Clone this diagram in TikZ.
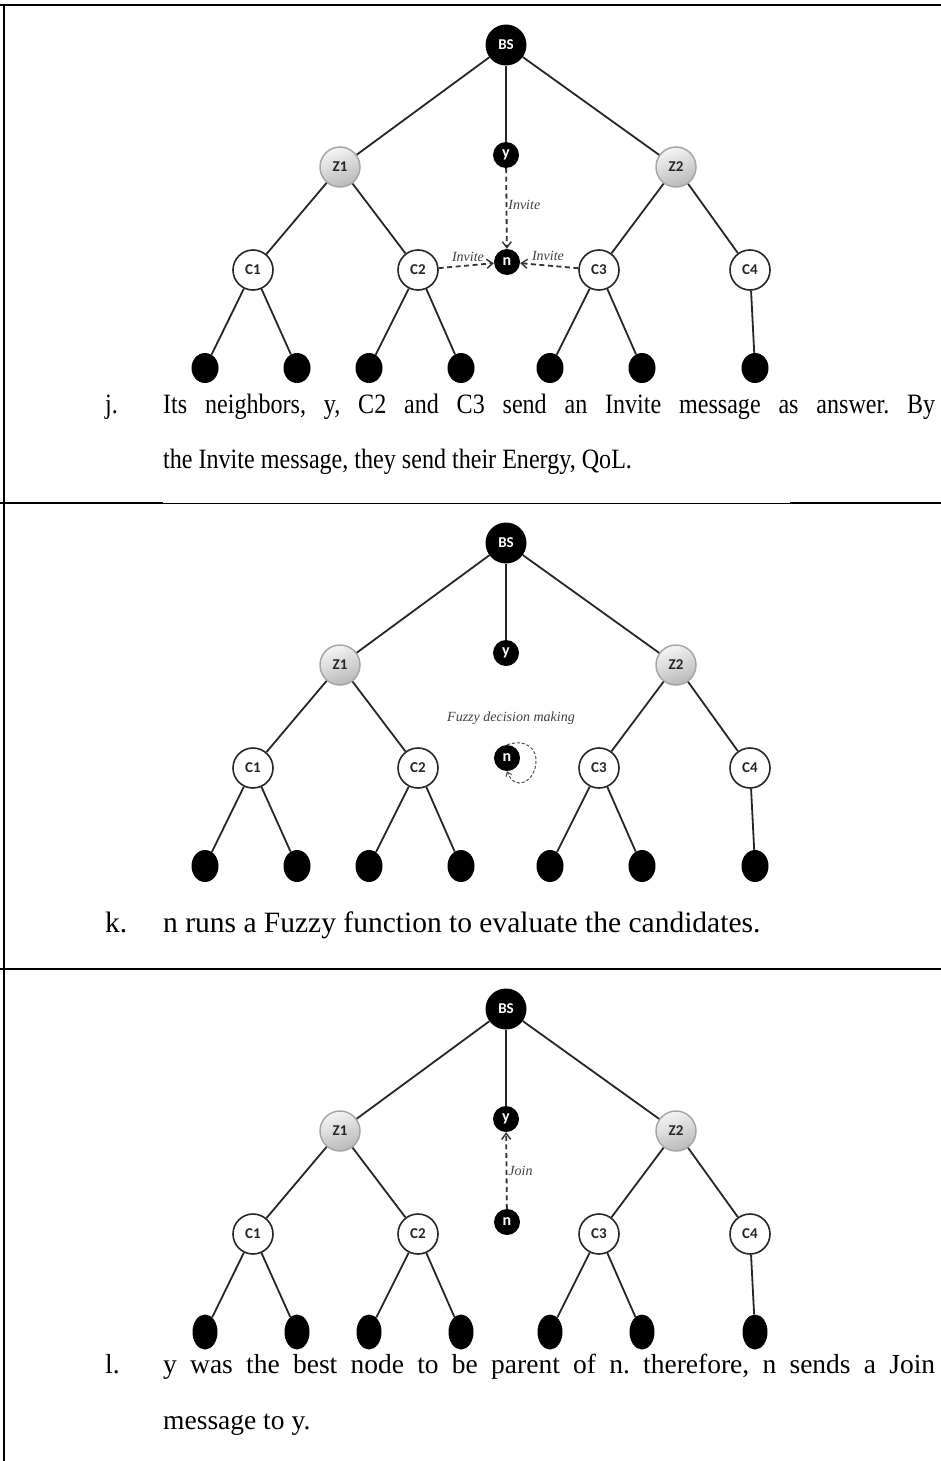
\documentclass[tikz,border=0pt]{standalone}
\usepackage{fontspec}
\setmainfont{Liberation Serif}
\newfontfamily\carlito{Carlito}
\newfontfamily\condserif{Liberation Serif}[FakeStretch=0.86]
\usetikzlibrary{shapes.geometric,arrows.meta,calc}
\tikzset{
  lbl/.style={font=\carlito\bfseries\fontsize{15}{15}\selectfont},
  bsnode/.style={circle,fill=black,text=white,minimum size=41pt,inner sep=0pt,lbl},
  znode/.style={circle,draw=gray!70,line width=1.5pt,top color=gray!8,bottom color=gray!55,shading angle=20,minimum size=40pt,inner sep=0pt,text=black!85,lbl},
  cnode/.style={circle,draw=black!85,line width=1.6pt,fill=white,minimum size=40pt,inner sep=0pt,text=black!85,lbl},
  smallnode/.style={circle,fill=black,text=white,minimum size=26pt,inner sep=0pt,font=\carlito\bfseries\fontsize{16}{16}\selectfont},
  leafnode/.style={ellipse,fill=black,minimum width=27pt,minimum height=30pt,inner sep=0pt},
  edge/.style={line width=1.8pt,black!85},
  msg/.style={line width=1.8pt,black!80,dash pattern=on 5pt off 3.5pt,-{Straight Barb[length=6pt,width=9pt,line width=1.4pt]}},
  msglabel/.style={inner sep=1pt,text=gray!50!black,font=\itshape\fontsize{14}{14}\selectfont},
  captext/.style={anchor=base west,inner sep=0pt}
}
\newcommand\drawtree[1]{%
  \node[bsnode] (#1bs) at (506,45) {BS};
  \node[smallnode] (#1y) at (506,155) {y};
  \node[znode] (#1z1) at (340,167) {Z1};
  \node[znode] (#1z2) at (676,167) {Z2};
  \node[cnode] (#1c1) at (253,270) {C1};
  \node[cnode] (#1c2) at (418,270) {C2};
  \node[cnode] (#1c3) at (599,270) {C3};
  \node[cnode] (#1c4) at (750,270) {C4};
  \node[leafnode] (#1l1) at (205,368) {};
  \node[leafnode] (#1l2) at (297,368) {};
  \node[leafnode] (#1l3) at (369,368) {};
  \node[leafnode] (#1l4) at (461,368) {};
  \node[leafnode] (#1l5) at (550,368) {};
  \node[leafnode] (#1l6) at (642,368) {};
  \node[leafnode] (#1l7) at (755,368) {};
  \draw[edge] (#1bs) -- (#1z1);
  \draw[edge] (#1bs) -- (#1y);
  \draw[edge] (#1bs) -- (#1z2);
  \draw[edge] (#1z1) -- (#1c1);
  \draw[edge] (#1z1) -- (#1c2);
  \draw[edge] (#1z2) -- (#1c3);
  \draw[edge] (#1z2) -- (#1c4);
  \draw[edge] (#1c1) -- (#1l1);
  \draw[edge] (#1c1) -- (#1l2);
  \draw[edge] (#1c2) -- (#1l3);
  \draw[edge] (#1c2) -- (#1l4);
  \draw[edge] (#1c3) -- (#1l5);
  \draw[edge] (#1c3) -- (#1l6);
  \draw[edge] (#1c4) -- (#1l7);
}
\frenchspacing
\begin{document}
\begin{tikzpicture}[x=1pt,y=-1pt]
\useasboundingbox (0,0) rectangle (941,1461);
% frame
\draw[line width=2.8pt] (0,5) -- (941,5);
\draw[line width=2.2pt] (4,5) -- (4,1461);
\draw[line width=2.2pt] (0,503) -- (163,503);
\draw[line width=1pt] (163,503) -- (790,503);
\draw[line width=2.2pt] (790,503) -- (941,503);
\draw[line width=2.6pt] (0,969) -- (941,969);
% panel 1
\begin{scope}[captext/.append style={font=\condserif\fontsize{28}{28}\selectfont}]
  \drawtree{a}
  \node[smallnode] (an) at (507,262) {n};
  \draw[msg] (ay) -- node[msglabel,right,pos=0.45] {Invite} (an);
  \draw[msg] (ac2) -- (an);
  \draw[msg] (ac3) -- (an);
  \node[msglabel] (ainv2) at (468,257) {Invite};
  \node[msglabel] (ainv3) at (548,256) {Invite};
  \node[captext] (aj) at (105,413) {j.};
  \node[captext] (aj1) at (163,413) {\makebox[772pt][s]{Its neighbors, y, C2 and C3 send an Invite message as answer. By}};
  \node[captext] (aj2) at (163,468) {the Invite message, they send their Energy, QoL.};
\end{scope}
% panel 2
\begin{scope}[shift={(0,498)},leafnode/.append style={minimum height=32pt},
    captext/.append style={font=\fontsize{29.5}{29.5}\selectfont}]
  \drawtree{b}
  \node[smallnode] (bn) at (507,260) {n};
  \draw[line width=1pt,gray!60!black,dash pattern=on 3pt off 2pt,-{Straight Barb[length=4pt,width=6pt]}]
    (bn.north) .. controls (527,240) and (537,252) .. (536,264)
    .. controls (535,284) and (515,294) .. (bn.south);
  \node[msglabel] (bfz) at (511,220) {Fuzzy decision making};
  \node[captext] (bk) at (105,434) {k.};
  \node[captext] (bk1) at (163,434) {n runs a Fuzzy function to evaluate the candidates.};
\end{scope}
% panel 3
\begin{scope}[shift={(0,964)},leafnode/.append style={minimum width=25pt,minimum height=35pt},
    captext/.append style={font=\fontsize{27.5}{27.5}\selectfont}]
  \drawtree{c}
  \node[smallnode] (cn) at (507,258) {n};
  \draw[msg] (cn) -- node[msglabel,right] {Join} (cy);
  \node[captext] (cl) at (105,409) {l.};
  \node[captext] (cl1) at (163,409) {\makebox[772pt][s]{y was the best node to be parent of n. therefore, n sends a Join}};
  \node[captext] (cl2) at (163,465) {message to y.};
\end{scope}
\end{tikzpicture}
\end{document}
